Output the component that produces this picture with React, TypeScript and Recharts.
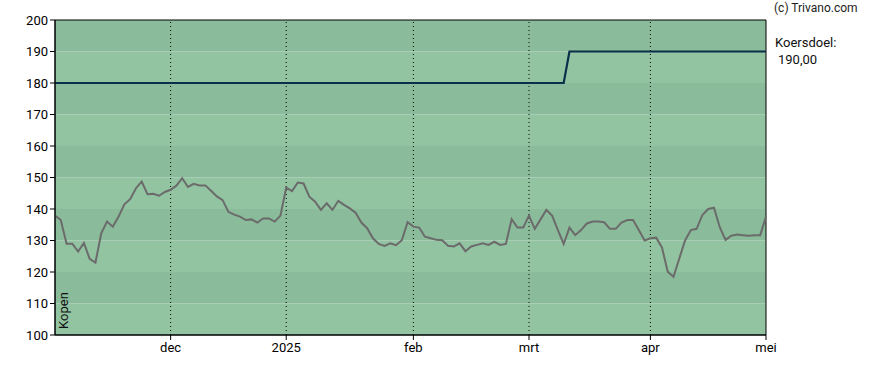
import { LineChart, Line, XAxis, YAxis, ReferenceArea, ReferenceLine } from 'recharts'

// koers per handelsdag (index 0 = begin nov)
const PRICES = [
  137.9, 136.5, 129, 129, 126.5, 129.2, 124.2, 123, 132.3, 136,
  134.4, 137.6, 141.5, 143.1, 146.6, 148.7, 144.7, 144.8, 144.2, 145.4,
  146.1, 147.4, 149.8, 147, 148, 147.5, 147.5, 145.8, 144, 142.8,
  139.1, 138.2, 137.6, 136.5, 136.7, 135.7, 137, 137, 136, 137.9,
  146.8, 145.7, 148.4, 148.1, 143.9, 142.3, 139.7, 141.8, 139.7, 142.6,
  141.3, 140.2, 138.8, 135.7, 133.9, 130.7, 128.9, 128.3, 129.1, 128.5,
  130.1, 135.8, 134.4, 134.1, 131.2, 130.7, 130.2, 130.1, 128.3, 128.1,
  129.1, 126.6, 128.1, 128.6, 129.1, 128.6, 129.6, 128.6, 128.9, 136.8,
  134.1, 134.1, 137.9, 133.7, 136.7, 139.7, 137.9, 133.3, 128.9, 134.1,
  131.7, 133.3, 135.4, 136, 136, 135.8, 133.7, 133.7, 135.7, 136.5,
  136.5, 133.3, 130, 130.7, 130.9, 127.8, 120.1, 118.5, 124.3, 130,
  133.3, 133.7, 138.1, 140, 140.4, 134.2, 130.2, 131.5, 131.9, 131.7,
  131.5, 131.7, 131.7, 137.6,
]
const TARGET_OLD = 180
const TARGET_NEW = 190
const TARGET_CHANGE_INDEX = 89

const MONTH_TICKS = [20, 40, 62, 82, 103, 123]
const MONTH_LABELS = ['dec', '2025', 'feb', 'mrt', 'apr', 'mei']
const Y_TICKS = [100, 110, 120, 130, 140, 150, 160, 170, 180, 190, 200]
const BANDS = [100, 110, 120, 130, 140, 150, 160, 170, 180, 190]

const data = PRICES.map((p, i) => ({
  i,
  price: p,
  target: i < TARGET_CHANGE_INDEX ? TARGET_OLD : TARGET_NEW,
}))

const FONT = 'Roboto, Arial, sans-serif'
const LIGHT = '#92c4a2'
const DARK = '#8abb9a'

export default function App() {
  return (
    <div style={{ position: 'absolute', left: 0, top: 0, width: 888, height: 370, background: '#fff', fontFamily: FONT }}>
      <LineChart width={888} height={370} data={data} margin={{ top: 20, right: 122, left: 5, bottom: 5 }}>
        <XAxis
          dataKey="i"
          type="number"
          domain={[0, 123]}
          ticks={MONTH_TICKS}
          tickFormatter={(v) => MONTH_LABELS[MONTH_TICKS.indexOf(v)]}
          tick={{ fill: '#000', fontSize: 13, fontFamily: FONT }}
          axisLine={{ stroke: '#000' }}
          tickLine={{ stroke: '#000' }}
          tickSize={5}
          tickMargin={3}
          height={30}
        />
        <YAxis
          type="number"
          domain={[100, 200]}
          ticks={Y_TICKS}
          tick={{ fill: '#000', fontSize: 13, fontFamily: FONT }}
          axisLine={{ stroke: '#000' }}
          tickLine={{ stroke: '#000' }}
          tickSize={5}
          tickMargin={2}
          width={50}
        />
        {BANDS.map((lo, k) => (
          <ReferenceArea key={lo} x1={0} x2={123} y1={lo} y2={lo + 10} fill={k % 2 === 1 ? DARK : LIGHT} fillOpacity={1} stroke="none" />
        ))}
        {MONTH_TICKS.slice(0, -1).map(t => (
          <ReferenceLine key={t} x={t} stroke="#000" strokeDasharray="1 3" />
        ))}
        <ReferenceArea x1={0} x2={123} y1={100} y2={200} fill="none" stroke="#000" strokeWidth={1} />
        <Line type="linear" dataKey="price" stroke="#6b6b6b" strokeWidth={2} dot={false} isAnimationActive={false} />
        <Line type="linear" dataKey="target" stroke="#0b2f4b" strokeWidth={2.2} dot={false} isAnimationActive={false} />
      </LineChart>
      <div style={{ position: 'absolute', left: 774, top: 1, fontSize: 12, color: '#222' }}>(c) Trivano.com</div>
      <div style={{ position: 'absolute', left: 775, top: 35, fontSize: 13, color: '#111' }}>Koersdoel:</div>
      <div style={{ position: 'absolute', left: 778, top: 52, fontSize: 13, color: '#111' }}>190,00</div>
      <div style={{ position: 'absolute', left: 43, top: 303, fontSize: 13, lineHeight: '15px', color: '#111', transform: 'rotate(-90deg)', transformOrigin: 'center', width: 40, textAlign: 'center' }}>Kopen</div>
    </div>
  )
}
